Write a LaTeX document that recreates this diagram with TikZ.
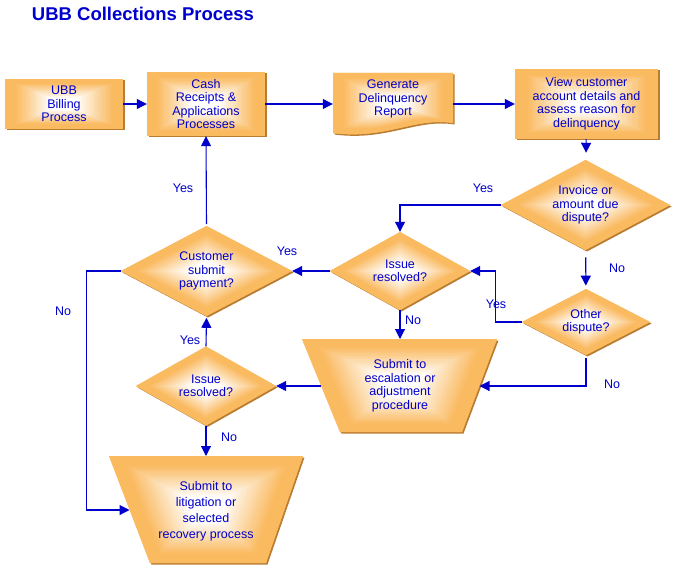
\documentclass[tikz,border=0pt]{standalone}
\usepackage{fontspec}
\setmainfont{Liberation Sans}
\usetikzlibrary{shapes.geometric,arrows.meta,shadows}
\definecolor{orng}{RGB}{250,186,96}
\definecolor{shd}{RGB}{186,124,48}
\definecolor{blu}{RGB}{0,0,205}
\newcommand\glowloop[1]{%
  \foreach \gk in {0,...,29}{%
    \pgfmathsetmacro\gs{1-\gk/30}%
    \pgfmathtruncatemacro\gp{max(0,min(100,(\gs-0.22)/0.62*100))}%
    \fill[orng!\gp!white, scale=\gs] #1;}}
\newcommand\glowshape[2]{%
  \begin{scope}[shift={#1}]
    \fill[base] #2;
    \glowloop{#2}
  \end{scope}}
\begin{document}
\begin{tikzpicture}[x=1pt,y=-1pt,
  font=\fontsize{12.5}{13.5}\selectfont,
  base/.style={fill=orng, general shadow={fill=shd, shadow xshift=1.5pt, shadow yshift=-1.5pt}},
  box/.style={draw=none, align=center, inner sep=0pt, text=blu},
  rbox/.style={box, rectangle},
  dia/.style={box, diamond},
  txt/.style={align=center, inner sep=0pt, text=blu},
  lbl/.style={text=blu, inner sep=0pt},
  flow/.style={draw=blu, line width=1.1pt, -{Triangle[length=10pt,width=10pt]}},
]
\useasboundingbox (0,0) rectangle (676,572);

% title
\node[lbl, font=\fontsize{18.5}{20}\selectfont\bfseries] (title) at (143,14) {UBB Collections Process};

% process boxes
\glowshape{(64,104)}{(-59,-25) rectangle (59,25)}
\node[rbox, minimum width=118, minimum height=50] (bill) at (64,104) {UBB\\Billing\\Process};
\glowshape{(206,104)}{(-59,-32) rectangle (59,32)}
\node[rbox, minimum width=118, minimum height=64] (cash) at (206,104) {Cash\\Receipts \&\\Applications\\Processes};
\glowshape{(586.5,104)}{(-71.5,-35) rectangle (71.5,35)}
\node[rbox, minimum width=143, minimum height=70] (view) at (586.5,104) {View customer\\account details and\\assess reason for\\delinquency};

% document shape
\glowshape{(393,104)}{(-60,-31) -- (60,-31) -- (60,19) .. controls (22,13) and (-8,36) .. (-60,29) -- cycle}
\node[minimum width=120, minimum height=62, inner sep=0pt] (rep) at (393,104) {};
\node[txt] (reptext) at (393,99) {Generate\\Delinquency\\Report};

% decisions
\glowshape{(585.5,205)}{(-84.5,0) -- (0,-45) -- (84.5,0) -- (0,45) -- cycle}
\node[dia, minimum width=169, minimum height=90] (inv) at (585.5,205) {Invoice or\\amount due\\dispute?};
\glowshape{(586,322)}{(-64,0) -- (0,-33) -- (64,0) -- (0,33) -- cycle}
\node[dia, minimum width=128, minimum height=66] (oth) at (586,322) {Other\\dispute?};
\glowshape{(400,271)}{(-70,0) -- (0,-39) -- (70,0) -- (0,39) -- cycle}
\node[dia, minimum width=140, minimum height=78] (iss1) at (400,271) {Issue\\resolved?};
\glowshape{(206.5,271)}{(-85.5,0) -- (0,-45) -- (85.5,0) -- (0,45) -- cycle}
\node[dia, minimum width=171, minimum height=90] (cust) at (206.5,271) {Customer\\submit\\payment?};
\glowshape{(206,386)}{(-70,0) -- (0,-39.5) -- (70,0) -- (0,39.5) -- cycle}
\node[dia, minimum width=140, minimum height=79] (iss2) at (206,386) {Issue\\resolved?};

% trapezoids
\glowshape{(400,385.5)}{(-98,-46.5) -- (97,-46.5) -- (62,46.5) -- (-60,46.5) -- cycle}
\node[txt] (esc) at (400,386) {Submit to\\escalation or\\adjustment\\procedure};
\coordinate (escT) at (400,339);
\coordinate (escR) at (479.5,386);
\coordinate (escL) at (321,386);

\glowshape{(206,509.5)}{(-97,-53.5) -- (97,-53.5) -- (60,53.5) -- (-56,53.5) -- cycle}
\node[txt, font=\fontsize{12.5}{16}\selectfont] (lit) at (206,511) {Submit to\\litigation or\\selected\\recovery process};
\coordinate (litT) at (206,456);
\coordinate (litL) at (129.5,510);

% connectors
\draw[flow] (bill) -- (cash);
\draw[flow] (cash) -- (rep);
\draw[flow] (rep) -- (view);
\draw[flow] (view) -- (inv);
\draw[flow] (inv.west) -| (iss1.north);
\draw[flow] (inv) -- (oth);
\draw[flow] (oth.west) -- ++(-26,0) |- (iss1.east);
\draw[flow] (oth.south) |- (escR);
\draw[flow] (iss1.south) -- (escT);
\draw[flow] (iss1.west) -- (cust.east);
\draw[flow] (cust.north) -- (cash.south);
\draw[flow] (escL) -- (iss2.east);
\draw[flow] (iss2.north) -- (cust.south);
\draw[flow] (iss2.south) -- (litT);
\draw[flow] (cust.west) -- ++(-34,0) |- (litL);

% labels
\node[lbl] (l1) at (183,188) {Yes};
\node[lbl] (l2) at (287,251) {Yes};
\node[lbl] (l3) at (483,188) {Yes};
\node[lbl] (l4) at (617,268) {No};
\node[lbl] (l5) at (496,304) {Yes};
\node[lbl] (l6) at (413,320) {No};
\node[lbl] (l7) at (612,384) {No};
\node[lbl] (l8) at (190,340) {Yes};
\node[lbl] (l9) at (229,437) {No};
\node[lbl] (l10) at (63,311) {No};
\end{tikzpicture}
\end{document}
